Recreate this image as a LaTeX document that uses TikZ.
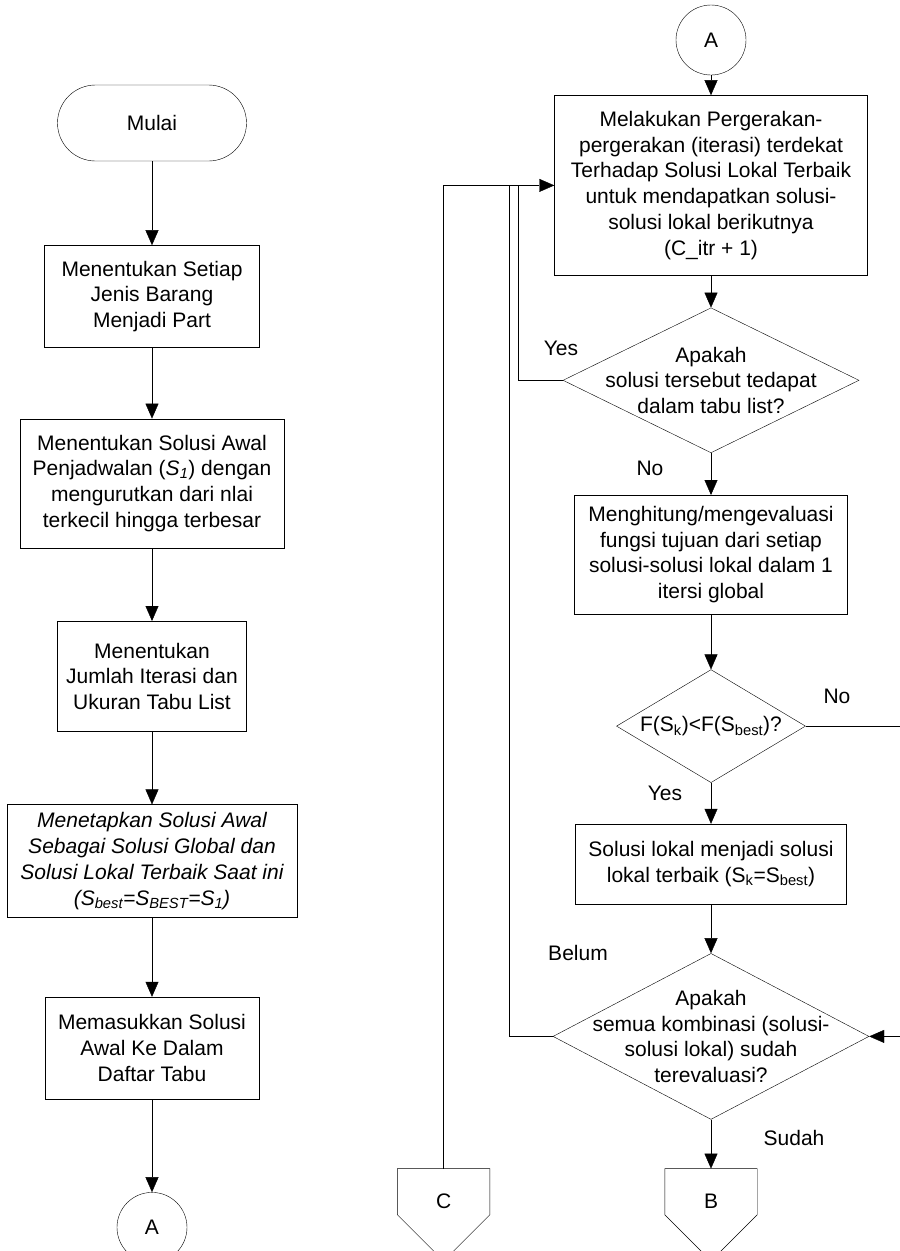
\documentclass[tikz,border=0pt]{standalone}
\usepackage{fontspec}
\setmainfont{Liberation Sans}
\usetikzlibrary{positioning, shapes.geometric, arrows.meta}

\begin{document}
\begin{tikzpicture}[x=1pt, y=-1pt,
     node distance = 40pt and 40pt,
              font = \fontsize{21}{25.7}\selectfont,
                 > = {Triangle[width=13pt,length=15pt]},
        term/.style = {rectangle, draw, rounded corners=38pt, minimum width=189pt, minimum height=76pt},
        box/.style = {rectangle, draw, align=center, inner sep=2pt},
        dec/.style = {diamond, draw, inner sep=0pt},
        conn/.style = {circle, draw, minimum size=70pt, inner sep=0pt},
        offp/.style = {rectangle, minimum width=92pt, minimum height=92pt, text depth=28pt, inner sep=0pt}
                        ]
\useasboundingbox (0,0) rectangle (900,1251);
% kolom kiri
\node (mulai) [term] at (152,123) {Mulai};
\node (part) [box, minimum width=215pt, minimum height=102pt, below=84pt of mulai] {Menentukan Setiap\\Jenis Barang\\Menjadi Part};
\node (awal) [box, minimum width=264pt, minimum height=129pt, below=71pt of part] {Menentukan Solusi Awal\\Penjadwalan (\textit{S\textsubscript{1}}) dengan\\mengurutkan dari nlai\\terkecil hingga terbesar};
\node (iter) [box, minimum width=189pt, minimum height=110pt, below=73pt of awal] {Menentukan\\Jumlah Iterasi dan\\Ukuran Tabu List};
\node (tetap) [box, minimum width=290pt, minimum height=113pt, font=\fontsize{21}{25.7}\selectfont\itshape, below=73pt of iter] {Menetapkan Solusi Awal\\Sebagai Solusi Global dan\\Solusi Lokal Terbaik Saat ini\\(S\textsubscript{best}=S\textsubscript{BEST}=S\textsubscript{1})};
\node (masuk) [box, minimum width=214pt, minimum height=102pt, below=79pt of tetap] {Memasukkan Solusi\\Awal Ke Dalam\\Daftar Tabu};
\node (a1) [conn, below=93pt of masuk] {A};
% kolom kanan
\node (a2) [conn] at (711,40) {A};
\node (gerak) [box, minimum width=313pt, minimum height=180pt, below=20pt of a2] {Melakukan Pergerakan-\\pergerakan (iterasi) terdekat\\Terhadap Solusi Lokal Terbaik\\untuk mendapatkan solusi-\\solusi lokal berikutnya\\(C\_itr + 1)};
\node (tabu) [dec, minimum width=296pt, minimum height=145pt, below=32pt of gerak] {};
\node (tabutxt) [align=center] at (tabu) {Apakah\\solusi tersebut tedapat\\dalam tabu list?};
\node (hitung) [box, minimum width=273pt, minimum height=119pt, below=42pt of tabu] {Menghitung/mengevaluasi\\fungsi tujuan dari setiap\\solusi-solusi lokal dalam 1\\itersi global};
\node (banding) [dec, minimum width=189pt, minimum height=113pt, below=55pt of hitung] {};
\node (bandingtxt) at (banding) {F(S\textsubscript{k})<F(S\textsubscript{best})?};
\node (terbaik) [box, minimum width=271pt, minimum height=80pt, below=41pt of banding] {Solusi lokal menjadi solusi\\lokal terbaik (S\textsubscript{k}=S\textsubscript{best})};
\node (semua) [dec, minimum width=316pt, minimum height=166pt, below=49pt of terbaik] {};
\node (semuatxt) [align=center] at (semua) {Apakah\\semua kombinasi (solusi-\\solusi lokal) sudah\\terevaluasi?};
\node (b) [offp, below=49pt of semua] {B};
\node (c) [offp, left=175pt of b] {C};
\foreach \n in {b,c}
  \draw (\n.north west) -- (\n.north east) -- (\n.east) -- (\n.south) -- (\n.west) -- cycle;
% label
\node (yes1) at (561,348) {Yes};
\node (no1) at (650,468) {No};
\node (no2) at (837,696) {No};
\node (yes2) at (665,793) {Yes};
\node (belum) at (578,953) {Belum};
\node (sudah) at (794,1138) {Sudah};
% panah
\draw[->] (mulai) to (part);
\draw[->] (part) to (awal);
\draw[->] (awal) to (iter);
\draw[->] (iter) to (tetap);
\draw[->] (tetap) to (masuk);
\draw[->] (masuk) to (a1);
\draw[->] (a2) to (gerak);
\draw[->] (gerak) to (tabu);
\draw[->] (tabu) to (hitung);
\draw[->] (hitung) to (banding);
\draw[->] (banding) to (terbaik);
\draw[->] (terbaik) to (semua);
\draw[->] (semua) to (b);
\coordinate[left=36pt of gerak.west] (j1);
\coordinate[left=45pt of gerak.west] (j2);
\coordinate[right=96pt of banding.east] (k1);
\draw[->] (c.north) |- (gerak.west);
\draw (tabu.west) -| (j1);
\draw (semua.west) -| (j2);
\draw[->] (banding.east) -- (k1) |- (semua.east);
\end{tikzpicture}
\end{document}
